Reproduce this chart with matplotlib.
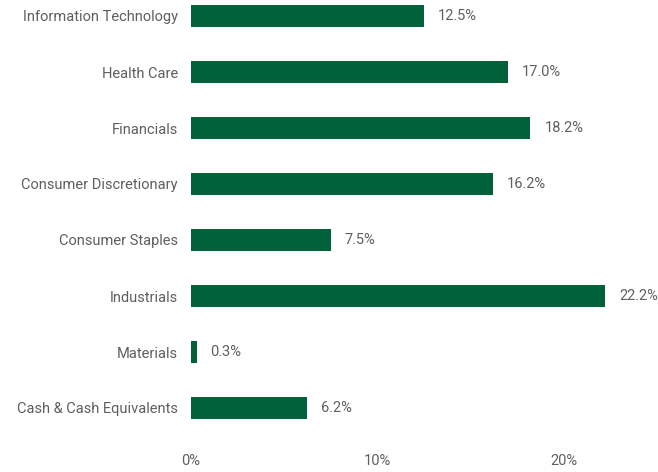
import matplotlib.pyplot as plt
from matplotlib.ticker import FuncFormatter

sectors = ['Information Technology', 'Health Care', 'Financials',
           'Consumer Discretionary', 'Consumer Staples', 'Industrials',
           'Materials', 'Cash & Cash Equivalents']
weights = [12.5, 17.0, 18.2, 16.2, 7.5, 22.2, 0.3, 6.2]
x_ticks = [0, 10, 20]

bar_color = '#006039'
text_color = '#5f5f5f'
plt.rcParams['font.family'] = ['Roboto', 'DejaVu Sans']

fig = plt.figure(figsize=(6.58, 4.72), dpi=100)
# axes placed so that 0% sits at x=191px, plot area from top to 436px
ax = fig.add_axes([191 / 658, 1 - 436 / 472, 459 / 658, 436 / 472])

pos = list(range(len(sectors)))
ax.barh(pos, weights, height=0.4, color=bar_color)

for p, w in zip(pos, weights):
    ax.annotate(f'{w:.1f}%', (w, p), xytext=(14, 0), textcoords='offset pixels',
                va='center', ha='left', fontsize=10.5, color=text_color)

ax.set_xlim(0, 459 / 18.65)
ax.set_ylim(7.5, -16 / 56)
ax.set_yticks(pos)
ax.set_yticklabels(sectors)
ax.set_xticks(x_ticks)
ax.xaxis.set_major_formatter(FuncFormatter(lambda v, _: f'{v:.0f}%'))

ax.tick_params(axis='both', length=0, labelsize=10.5, colors=text_color)
ax.tick_params(axis='y', pad=9.5)
ax.tick_params(axis='x', pad=13)
for s in ax.spines.values():
    s.set_visible(False)

fig.savefig('out.png', dpi=100)
